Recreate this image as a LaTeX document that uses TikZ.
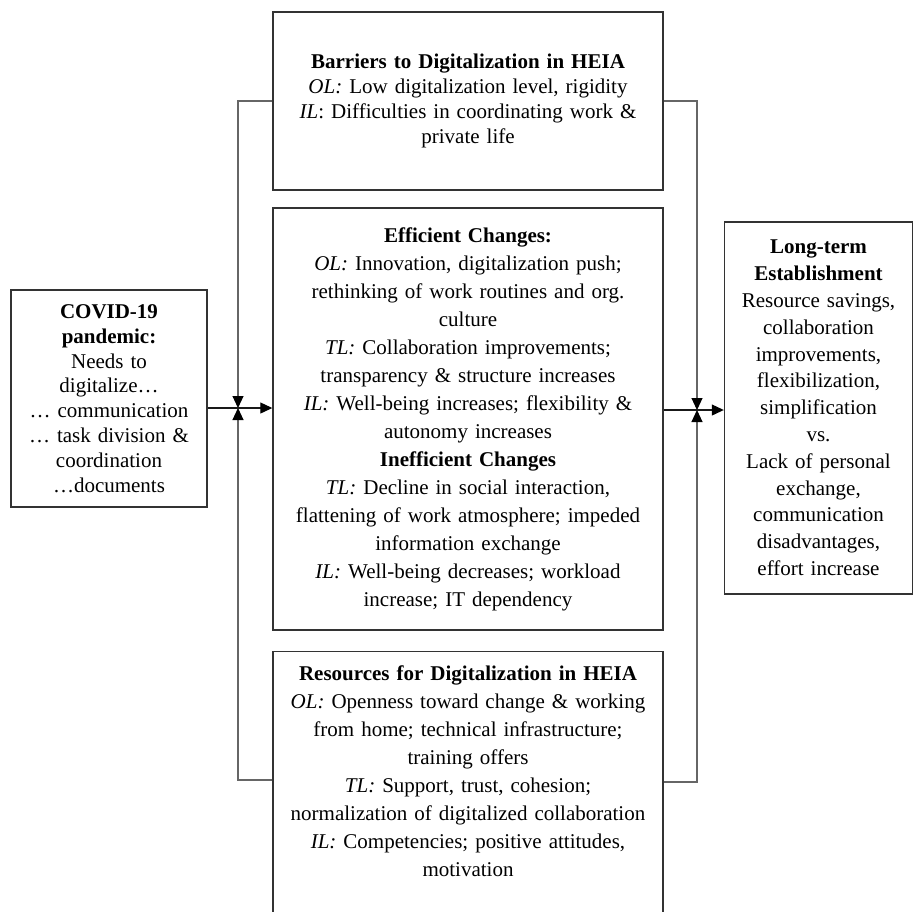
\documentclass[tikz,border=0pt]{standalone}
\usepackage{fontspec}
\setmainfont{Liberation Serif}
\usepackage{tikz}
\usetikzlibrary{positioning,arrows.meta}

\begin{document}
\begin{tikzpicture}[x=0.5pt, y=-0.5pt, >={Triangle[length=6pt,width=5.5pt,color=black]}, panel/.style = {draw=black!80, line width=0.7pt, align=center, inner sep=2pt, font=\fontsize{10.5}{12.4}\selectfont}, wide/.style = {font=\fontsize{10.5}{14}\selectfont}, conn/.style = {draw=black!60, line width=0.55pt}, flow/.style = {draw=black!90, line width=0.55pt, ->}]

\clip (0,0) rectangle (921,911);

\node[panel, minimum width=98pt, minimum height=108.5pt, text width=94pt] (covid) at (109,398.5) {\textbf{COVID-19}\\\textbf{pandemic:}\\Needs to\\digitalize…\\… communication\\… task division \&\\coordination\\…documents};

\node[panel, minimum width=195pt, minimum height=89pt, text width=190pt] (barriers) at (468,101) {\textbf{Barriers to Digitalization in HEIA}\\\textit{OL:} Low digitalization level, rigidity\\\textit{IL}: Difficulties in coordinating work \&\\private life};

\node[panel, wide, minimum width=195pt, minimum height=211pt, text width=190pt] (changes) at (468,419) {\textbf{Efficient Changes:}\\\textit{OL:} Innovation, digitalization push;\\rethinking of work routines and org.\\culture\\\textit{TL:} Collaboration improvements;\\transparency \& structure increases\\\textit{IL:} Well-being increases; flexibility \&\\autonomy increases\\\textbf{Inefficient Changes}\\\textit{TL:} Decline in social interaction,\\flattening of work atmosphere; impeded\\information exchange\\\textit{IL:} Well-being decreases; workload\\increase; IT dependency};

\node[panel, wide, minimum width=195pt, text width=190pt, anchor=north, inner ysep=7pt, text depth=125pt] (resources) at (468,651) {\textbf{Resources for Digitalization in HEIA}\\\textit{OL:} Openness toward change \& working\\from home; technical infrastructure;\\training offers\\\textit{TL:} Support, trust, cohesion;\\normalization of digitalized collaboration\\\textit{IL:} Competencies; positive attitudes,\\motivation};

\node[panel, font=\fontsize{10.5}{13.4}\selectfont, minimum width=92.5pt, minimum height=186pt, text width=90pt] (longterm) at (818.5,408) {\textbf{Long-term}\\\textbf{Establishment}\\Resource savings,\\collaboration\\improvements,\\flexibilization,\\simplification\\vs.\\Lack of personal\\exchange,\\communication\\disadvantages,\\effort increase};

\coordinate (jl) at (238,408);
\coordinate (jr) at (697,410);

\draw[conn, ->] (barriers.west) -| (jl);
\draw[conn, ->] ([yshift=-64.5pt]resources.north west) -| (jl);
\draw[flow] (covid.east |- jl) -- (changes.west |- jl);

\draw[conn, ->] (barriers.east) -| (jr);
\draw[conn, ->] ([yshift=-65.5pt]resources.north east) -| (jr);
\draw[flow] (changes.east |- jr) -- (longterm.west |- jr);
\end{tikzpicture}
\end{document}
